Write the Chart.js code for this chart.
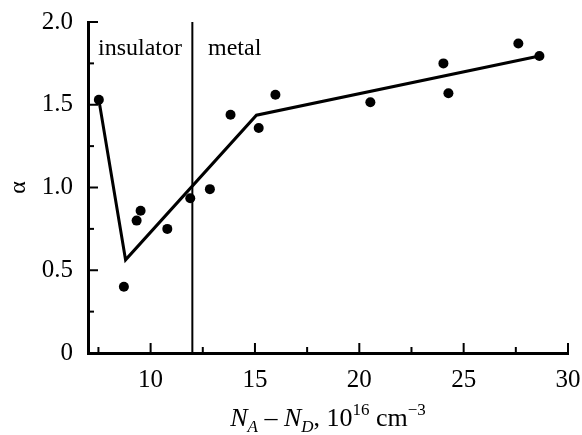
<!DOCTYPE html>
<html><head><meta charset="utf-8">
<script src="https://cdn.jsdelivr.net/npm/chart.js@4"></script>
<style>html,body{margin:0;padding:0;background:#fff}canvas{display:block}</style>
</head><body>
<canvas id="c" width="582" height="435"></canvas>
<script>
// Data
const pointX = [7.52, 8.72, 9.33, 9.52, 10.80, 11.90, 12.84, 13.83, 15.18, 15.98, 20.53, 24.03, 24.27, 27.62, 28.63];
const pointY = [1.53, 0.40, 0.80, 0.86, 0.75, 0.935, 0.99, 1.44, 1.36, 1.56, 1.515, 1.75, 1.57, 1.87, 1.795];
const fitX = [7.52, 8.80, 15.07, 28.63];
const fitY = [1.53, 0.563, 1.437, 1.795];
const boundaryX = [12, 12];
const boundaryY = [0, 2.0];
const xTicksMajor = [10, 15, 20, 25, 30];
const xTicksMinor = [7.5, 12.5, 17.5, 22.5, 27.5];
const yTicksMajor = [0, 0.5, 1.0, 1.5, 2.0];
const yTicksMinor = [0.25, 0.75, 1.25, 1.75];
const regionLabels = ['insulator', 'metal'];
const yTitle = 'α';

const FONT = 'Liberation Serif';
const zip = (xs, ys) => xs.map((x, i) => ({x, y: ys[i]}));
const noOverflow = s => { s.paddingTop = 0; s.paddingBottom = 0; s.paddingLeft = 0; s.paddingRight = 0; };

const decor = {
  id: 'decor',
  afterDraw(chart) {
    const ctx = chart.ctx;
    const xs = chart.scales.x, ys = chart.scales.y;
    const a = chart.chartArea;
    ctx.save();
    ctx.strokeStyle = '#000';
    ctx.lineWidth = 2;
    ctx.lineCap = 'butt';
    const xt = (v, len) => { const p = xs.getPixelForValue(v); ctx.beginPath(); ctx.moveTo(p, a.bottom); ctx.lineTo(p, a.bottom - len); ctx.stroke(); };
    xTicksMajor.forEach(v => xt(v, 10));
    xTicksMinor.forEach(v => xt(v, 6));
    const yt = (v, len) => { const p = ys.getPixelForValue(v); ctx.beginPath(); ctx.moveTo(a.left, p); ctx.lineTo(a.left + len, p); ctx.stroke(); };
    yTicksMajor.forEach(v => yt(v, 10));
    yTicksMinor.forEach(v => yt(v, 6));
    // region labels
    ctx.fillStyle = '#000';
    ctx.font = '24px "' + FONT + '"';
    ctx.textBaseline = 'alphabetic';
    ctx.textAlign = 'left';
    ctx.fillText(regionLabels[0], 98, 55);
    ctx.fillText(regionLabels[1], 208, 55);
    // x axis title with sub/superscripts
    const parts = [
      {t: 'N', f: 'italic 26px', dy: 0},
      {t: 'A', f: 'italic 17px', dy: 6},
      {t: ' \u2013 ', f: '26px', dy: 0},
      {t: 'N', f: 'italic 26px', dy: 0},
      {t: 'D', f: 'italic 17px', dy: 6},
      {t: ', 10', f: '26px', dy: 0},
      {t: '16', f: '17px', dy: -11},
      {t: ' cm', f: '26px', dy: 0},
      {t: '\u22123', f: '17px', dy: -11}
    ];
    let total = 0;
    parts.forEach(p => { ctx.font = p.f + ' "' + FONT + '"'; p.w = ctx.measureText(p.t).width; total += p.w; });
    let x = 328 - total / 2;
    const base = 426;
    parts.forEach(p => { ctx.font = p.f + ' "' + FONT + '"'; ctx.fillText(p.t, x, base + p.dy); x += p.w; });
    ctx.restore();
  }
};

new Chart(document.getElementById('c'), {
  type: 'scatter',
  data: {
    datasets: [
      {data: zip(boundaryX, boundaryY), showLine: true, borderColor: '#000', borderWidth: 2, pointRadius: 0},
      {data: zip(fitX, fitY), showLine: true, borderColor: '#000', borderWidth: 3, pointRadius: 0, tension: 0},
      {data: zip(pointX, pointY), showLine: false, backgroundColor: '#000', borderColor: '#000', pointRadius: 5, borderWidth: 0}
    ]
  },
  options: {
    responsive: false,
    animation: false,
    layout: {padding: {top: 22, right: 14, left: 0, bottom: 0}},
    plugins: {legend: {display: false}, tooltip: {enabled: false}},
    scales: {
      x: {
        type: 'linear', min: 7, max: 30,
        afterBuildTicks: s => { s.ticks = xTicksMajor.map(v => ({value: v})); },
        afterFit: s => { s.height = 82; noOverflow(s); },
        grid: {display: false, drawTicks: false},
        border: {display: true, color: '#000', width: 3},
        ticks: {color: '#000', padding: 12, font: {family: FONT, size: 25}, maxRotation: 0, callback: v => String(v)}
      },
      y: {
        min: 0, max: 2.0,
        afterBuildTicks: s => { s.ticks = yTicksMajor.map(v => ({value: v})); },
        afterFit: s => { s.width = 88; noOverflow(s); },
        grid: {display: false, drawTicks: false},
        border: {display: true, color: '#000', width: 3},
        title: {display: true, text: yTitle, color: '#000', font: {family: FONT, size: 24}, padding: {top: 4, bottom: 0}},
        ticks: {color: '#000', padding: 15, font: {family: FONT, size: 25}, callback: v => v === 0 ? '0' : v.toFixed(1)}
      }
    }
  },
  plugins: [decor]
});
</script>
</body></html>
